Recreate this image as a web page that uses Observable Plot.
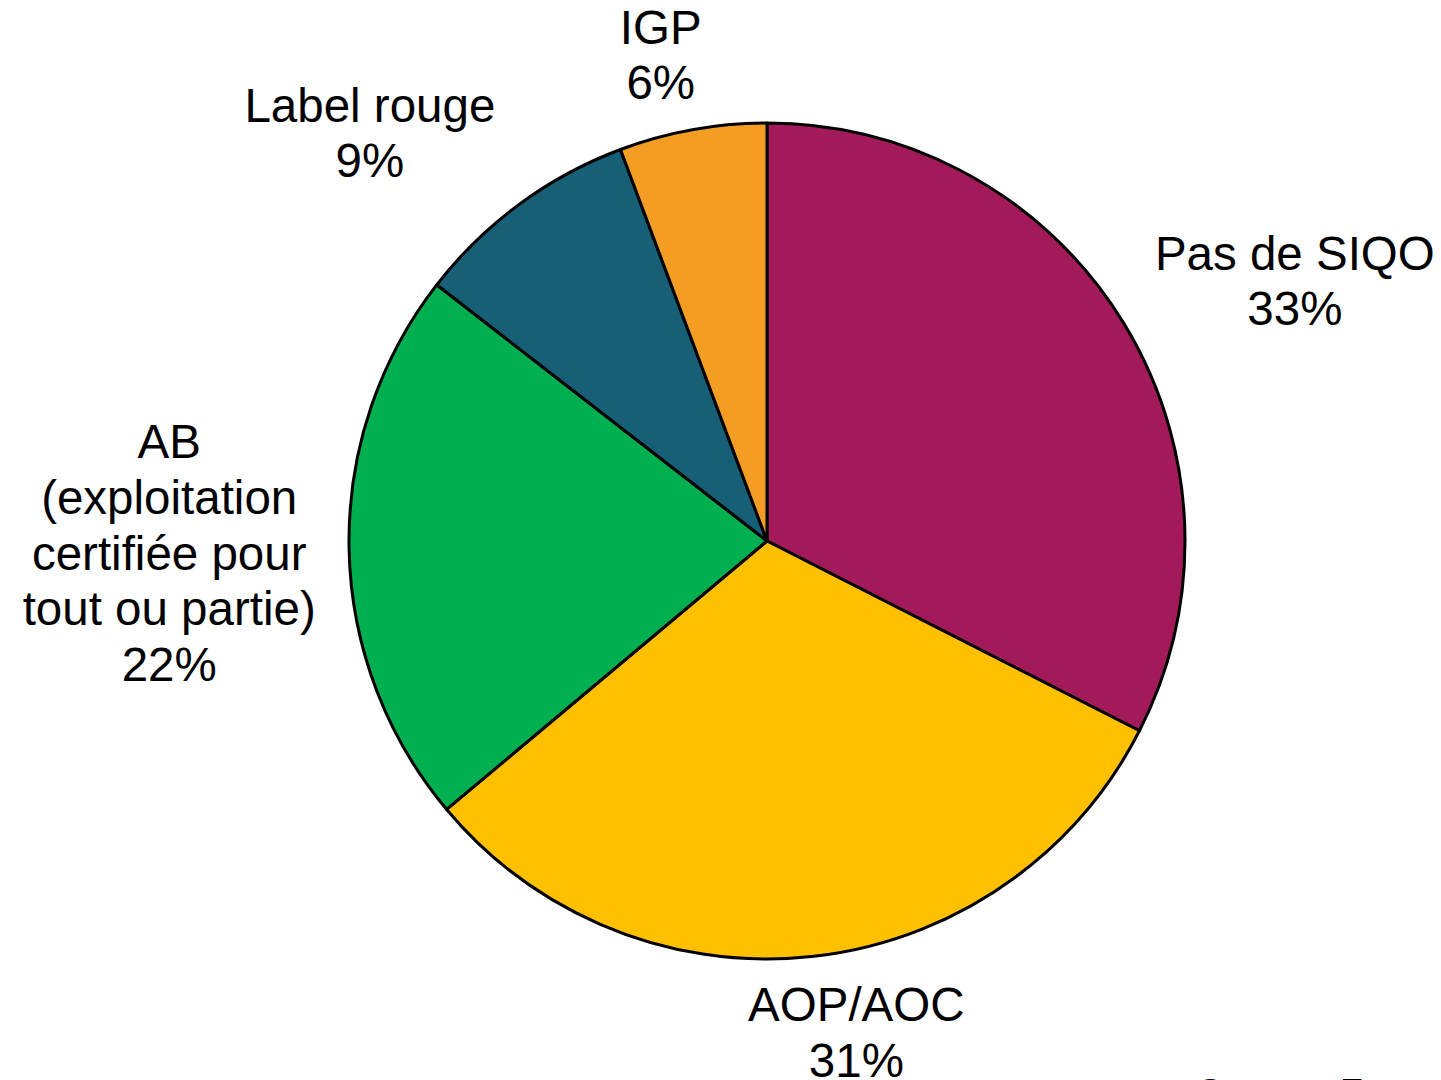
<!DOCTYPE html>
<html>
<head>
<meta charset="utf-8">
<script src="https://cdn.jsdelivr.net/npm/d3@7"></script>
<script src="https://cdn.jsdelivr.net/npm/@observablehq/plot@0.6"></script>
<style>
  html, body { margin: 0; padding: 0; background: #ffffff; overflow: hidden; }
  #chart { position: relative; width: 1441px; height: 1080px; }
  #source { position: absolute; left: 1198px; top: 1074px; font-family: "Liberation Sans", Arial, sans-serif; font-size: 35.5px; line-height: 1; color: #000; white-space: nowrap; }
</style>
</head>
<body>
<div id="chart"></div>
<script>
// ---- data ----
const categories = ["Pas de SIQO", "AOP/AOC", "AB", "Label rouge", "IGP"];
const labelTexts = ["Pas de SIQO", "AOP/AOC", "AB\n(exploitation\ncertifiée pour\ntout ou partie)", "Label rouge", "IGP"];
const shares = [32.5, 31.4, 21.6, 8.8, 5.7];
const percentLabels = ["33%", "31%", "22%", "9%", "6%"];
const sliceColors = ["#A31A5B", "#FFC000", "#00AF50", "#175E77", "#F49D24"];
const sourceText = "Source : Est";

// ---- layout (pixels) ----
const cx = 767, cy = 541, R = 418;
const labelRadius = 1.3;
const labelNudge = [[64, 22], [27.5, -50], [-55, 0], [-75.5, 28], [-10, 47]];

const arcs = d3.pie().sort(null).value(i => shares[i])(d3.range(categories.length));

const labels = arcs.map(a => {
  const i = a.data;
  const m = (a.startAngle + a.endAngle) / 2;
  return {
    category: categories[i],
    x: labelRadius * Math.sin(m) + labelNudge[i][0] / R,
    y: labelRadius * Math.cos(m) - labelNudge[i][1] / R,
    text: labelTexts[i] + "\n" + percentLabels[i]
  };
});

function pieMark(index, scales) {
  const x0 = scales.x(0), y0 = scales.y(0);
  const r = Math.abs(scales.x(1) - scales.x(0));
  const arcGen = d3.arc().innerRadius(0).outerRadius(r);
  const g = d3.create("svg:g").attr("transform", `translate(${x0},${y0})`);
  g.selectAll("path")
    .data(arcs)
    .join("path")
    .attr("d", arcGen)
    .attr("fill", d => sliceColors[d.data])
    .attr("stroke", "#000")
    .attr("stroke-width", 3)
    .attr("stroke-linejoin", "round");
  return g.node();
}

const chart = Plot.plot({
  width: 1441,
  height: 1080,
  margin: 0,
  x: { domain: [-1, 1], range: [cx - R, cx + R], axis: null },
  y: { domain: [-1, 1], range: [cy + R, cy - R], axis: null },
  style: { fontFamily: "'Liberation Sans', Arial, sans-serif", background: "#ffffff", overflow: "hidden" },
  marks: [
    pieMark,
    Plot.text(labels, {
      x: "x", y: "y", text: "text",
      fontSize: 47.5, lineHeight: 1.17, fill: "#000", textAnchor: "middle"
    })
  ]
});
document.getElementById("chart").appendChild(chart);
const src = document.createElement("div");
src.id = "source";
src.textContent = sourceText;
document.getElementById("chart").appendChild(src);
</script>
</body>
</html>
